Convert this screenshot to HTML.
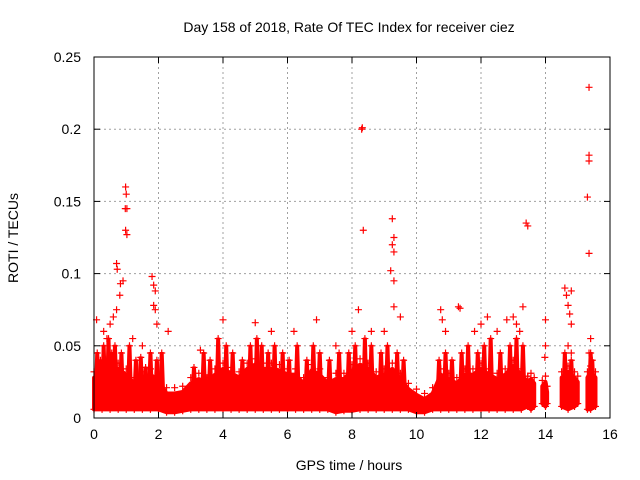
<!DOCTYPE html>
<html><head><meta charset="utf-8"><style>
body{margin:0;background:#fff;}
svg{display:block;font-family:"Liberation Sans",sans-serif;}
</style></head><body>
<svg id="chart" width="640" height="480" viewBox="0 0 640 480">
<text x="349" y="32" font-size="14" text-anchor="middle" fill="#000">Day 158 of 2018, Rate Of TEC Index for receiver ciez</text>
<text x="349" y="470" font-size="14" text-anchor="middle">GPS time / hours</text>
<text transform="translate(18,238) rotate(-90)" font-size="14" text-anchor="middle">ROTI / TECUs</text>
<g id="grid"></g><g id="band"></g><g id="pts"></g><g id="axes"></g>
</svg>
<script>
const xTicks=[0,2,4,6,8,10,12,14,16];
const yTicks=[0,0.05,0.1,0.15,0.2,0.25];
const yTickLabels=["0","0.05","0.1","0.15","0.2","0.25"];
const bandT=[0,0.25,0.5,0.75,1.0,1.25,1.5,1.75,2.0,2.25,2.5,2.75,3.0,3.25,3.5,3.75,4.0,4.25,4.5,4.75,5.0,5.25,5.5,5.75,6.0,6.25,6.5,6.75,7.0,7.25,7.5,7.75,8.0,8.25,8.5,8.75,9.0,9.25,9.5,9.75,10.0,10.25,10.5,10.75,11.0,11.25,11.5,11.75,12.0,12.25,12.5,12.75,13.0,13.25,13.45,null,13.45,13.55,13.65,null,13.9,14.0,14.05,null,14.5,14.7,14.9,15.0,null,15.3,15.4,15.55];
const bandHi=[0.028,0.032,0.036,0.034,0.03,0.024,0.028,0.03,0.026,0.017,0.017,0.018,0.024,0.027,0.024,0.03,0.034,0.031,0.028,0.034,0.037,0.034,0.034,0.033,0.03,0.03,0.024,0.033,0.03,0.024,0.027,0.027,0.033,0.037,0.034,0.028,0.03,0.034,0.027,0.02,0.016,0.013,0.017,0.03,0.027,0.024,0.03,0.03,0.034,0.03,0.027,0.03,0.036,0.03,0.025,null,0.025,0.027,0.024,null,0.022,0.025,0.018,null,0.028,0.032,0.028,0.025,null,0.028,0.032,0.028];
const bandLo=[0.006,0.006,0.006,0.006,0.006,0.006,0.006,0.006,0.006,0.004,0.004,0.005,0.006,0.006,0.006,0.006,0.006,0.006,0.006,0.006,0.006,0.006,0.006,0.006,0.006,0.006,0.006,0.006,0.006,0.006,0.004,0.005,0.005,0.006,0.006,0.006,0.006,0.006,0.006,0.006,0.004,0.004,0.006,0.006,0.006,0.006,0.006,0.006,0.006,0.006,0.006,0.006,0.006,0.006,0.008,null,0.008,0.006,0.008,null,0.01,0.008,0.01,null,0.008,0.006,0.008,0.01,null,0.006,0.006,0.008];
const spikeT=[0.1,0.2,0.3,0.45,0.55,0.65,0.85,1.1,1.3,1.45,1.6,1.75,1.95,2.1,3.1,3.4,3.6,3.85,4.1,4.3,4.6,4.85,5.05,5.2,5.4,5.6,5.85,6.05,6.3,6.6,6.8,7.0,7.3,7.6,7.9,8.1,8.4,8.6,8.9,9.1,9.4,9.6,10.7,10.9,11.1,11.4,11.6,11.9,12.1,12.3,12.6,12.9,13.1,13.3,14.6,14.8,15.4,15.45];
const spikeV=[0.045,0.04,0.05,0.055,0.045,0.05,0.045,0.05,0.04,0.042,0.035,0.045,0.04,0.045,0.035,0.045,0.04,0.055,0.05,0.045,0.04,0.05,0.055,0.05,0.045,0.05,0.045,0.04,0.05,0.04,0.05,0.045,0.04,0.045,0.045,0.05,0.055,0.05,0.045,0.05,0.045,0.04,0.04,0.045,0.04,0.045,0.05,0.045,0.05,0.055,0.045,0.05,0.055,0.05,0.045,0.04,0.045,0.04];
const outT=[0.08,0.7,0.72,0.8,0.82,0.9,0.98,1.0,0.97,1.02,0.98,1.02,0.6,0.7,1.8,1.85,1.9,1.85,1.9,1.95,4.0,5.0,6.9,8.2,8.3,8.32,8.35,9.2,9.25,9.25,9.3,9.3,9.3,9.3,9.5,10.75,10.8,11.3,11.35,12.0,12.2,12.8,13.0,13.1,13.3,13.4,13.45,14.0,14.0,13.98,14.6,14.65,14.8,14.7,14.75,14.8,14.7,14.8,15.35,15.35,15.35,15.3,15.35,15.4,15.35,0.3,0.5,0.4,1.2,2.3,1.5,3.3,5.5,6.2,7.5,8.0,8.6,9.0,10.9,11.8,12.5,13.2];
const outV=[0.068,0.107,0.103,0.085,0.093,0.095,0.16,0.155,0.145,0.145,0.13,0.127,0.07,0.075,0.098,0.092,0.088,0.078,0.075,0.065,0.068,0.066,0.068,0.075,0.2,0.201,0.13,0.102,0.138,0.12,0.125,0.115,0.095,0.077,0.07,0.075,0.068,0.077,0.076,0.065,0.07,0.068,0.07,0.065,0.077,0.135,0.133,0.068,0.05,0.042,0.09,0.085,0.088,0.078,0.072,0.065,0.05,0.045,0.229,0.182,0.178,0.153,0.114,0.055,0.045,0.06,0.065,0.055,0.055,0.06,0.05,0.047,0.06,0.06,0.05,0.06,0.06,0.06,0.06,0.06,0.06,0.06];
const L=94,R=610,T=57,B=418;
const xs=t=>L+(t/16)*(R-L), ys=v=>B-(v/0.25)*(B-T);
const NS="http://www.w3.org/2000/svg";
function mk(tag,attrs,parent){const e=document.createElementNS(NS,tag);for(const k in attrs)e.setAttribute(k,attrs[k]);parent.appendChild(e);return e;}
const grid=document.getElementById('grid'),axes=document.getElementById('axes'),band=document.getElementById('band'),pts=document.getElementById('pts');
xTicks.forEach((t,i)=>{
 if(i>0&&i<xTicks.length-1){const g=mk('line',{x1:xs(t),x2:xs(t),y1:T,y2:B,stroke:'#a0a0a0','stroke-dasharray':'2,3'},grid);
 
 }
 mk('line',{x1:xs(t),x2:xs(t),y1:B,y2:B-6,stroke:'#000'},axes);
 mk('line',{x1:xs(t),x2:xs(t),y1:T,y2:T+6,stroke:'#000'},axes);
 const tx=mk('text',{x:xs(t),y:B+21,'font-size':14,'text-anchor':'middle'},axes);tx.textContent=t;
 
 
});
yTicks.forEach((v,i)=>{
 if(i>0&&i<yTicks.length-1){const g=mk('line',{x1:L,x2:R,y1:ys(v),y2:ys(v),stroke:'#a0a0a0','stroke-dasharray':'2,3'},grid);
 
 }
 mk('line',{x1:L,x2:L+6,y1:ys(v),y2:ys(v),stroke:'#000'},axes);
 mk('line',{x1:R,x2:R-6,y1:ys(v),y2:ys(v),stroke:'#000'},axes);
 const tx=mk('text',{x:L-13,y:ys(v)+5,'font-size':14,'text-anchor':'end'},axes);tx.textContent=yTickLabels[i];
 
 
});
const frame=mk('rect',{x:L,y:T,width:R-L,height:B-T,fill:'none',stroke:'#000'},axes);


function plus(t,v,parent){const x=xs(t),y=ys(v);mk('path',{d:`M${x-3.5},${y}H${x+3.5}M${x},${y-3.5}V${y+3.5}`,stroke:'#f00','stroke-width':1.2,fill:'none'},parent);}
function spike(t,v,parent){const x=xs(t);mk('path',{d:`M${x-2.5},${ys(0.015)}L${x-1},${ys(v)}H${x+1}L${x+2.5},${ys(0.015)}Z`,fill:'#f00',stroke:'#f00','stroke-width':2},parent);plus(t,v,parent);}
let seg=[];
function flush(){if(seg.length<2){seg=[];return;}
 let d='M'+seg.map(i=>xs(bandT[i])+','+ys(bandHi[i])).join('L');
 d+='L'+seg.slice().reverse().map(i=>xs(bandT[i])+','+ys(bandLo[i])).join('L')+'Z';
 const p=mk('path',{d:d,fill:'#f00',stroke:'#f00','stroke-width':4,'stroke-linejoin':'round'},band);
 
 
 seg=[];}
bandT.forEach((t,i)=>{if(t===null){flush();}else{seg.push(i);}});flush();
bandT.forEach((t,i)=>{if(t!==null){plus(t,bandHi[i]+0.004,pts);plus(t,bandLo[i],pts);}});
spikeT.forEach((t,i)=>{spike(t,spikeV[i],pts);});
outT.forEach((t,i)=>{plus(t,outV[i],pts);});


</script>
</body></html>
